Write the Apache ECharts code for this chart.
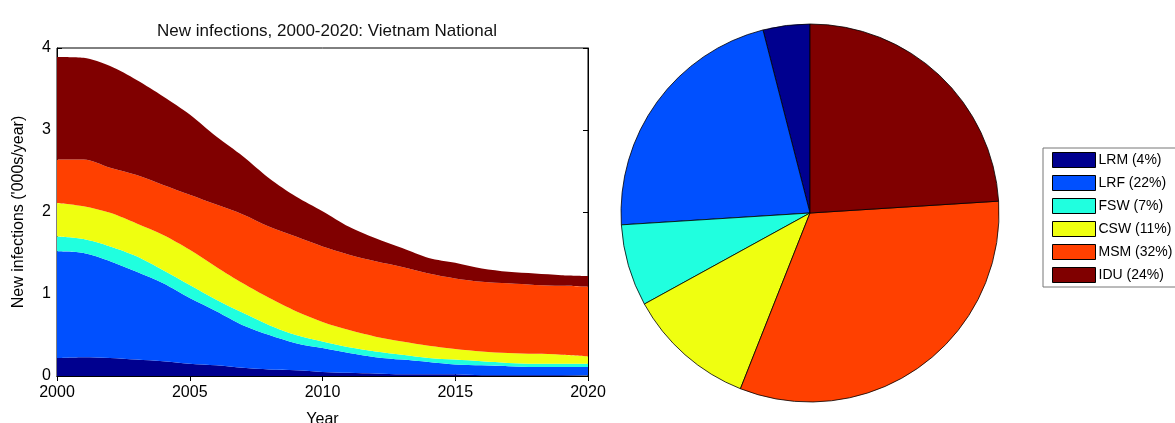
<!DOCTYPE html>
<html>
<head>
<meta charset="utf-8">
<script src="https://cdn.jsdelivr.net/npm/echarts@6/dist/echarts.min.js"></script>
<style>
  html, body { margin: 0; padding: 0; background: #fff; }
  #chart { width: 1175px; height: 423px; }
</style>
</head>
<body>
<div id="chart"></div>
<script>
// years on the x axis
const years = ['2000', '2001', '2002', '2003', '2004', '2005', '2006', '2007', '2008', '2009', '2010',
  '2011', '2012', '2013', '2014', '2015', '2016', '2017', '2018', '2019', '2020'];

// new infections per group, '000s/year (stacked bottom -> top)
const lrm = [0.22, 0.23, 0.22, 0.20, 0.18, 0.15, 0.13, 0.10, 0.08, 0.07, 0.05,
  0.04, 0.03, 0.02, 0.02, 0.02, 0.01, 0.01, 0.01, 0.01, 0.01];
const lrf = [1.30, 1.27, 1.18, 1.07, 0.95, 0.80, 0.66, 0.52, 0.42, 0.33, 0.29,
  0.24, 0.20, 0.18, 0.15, 0.12, 0.12, 0.11, 0.10, 0.10, 0.10];
const fsw = [0.18, 0.17, 0.18, 0.19, 0.16, 0.16, 0.14, 0.15, 0.12, 0.10, 0.08,
  0.07, 0.07, 0.06, 0.05, 0.06, 0.05, 0.04, 0.04, 0.04, 0.04];
const csw = [0.41, 0.40, 0.41, 0.40, 0.43, 0.43, 0.40, 0.36, 0.33, 0.29, 0.24,
  0.21, 0.18, 0.16, 0.15, 0.13, 0.12, 0.12, 0.12, 0.11, 0.09];
const msm = [0.53, 0.57, 0.55, 0.59, 0.61, 0.67, 0.76, 0.84, 0.87, 0.91, 0.92,
  0.92, 0.92, 0.91, 0.88, 0.86, 0.85, 0.85, 0.84, 0.84, 0.85];
const idu = [1.25, 1.24, 1.24, 1.16, 1.08, 0.98, 0.83, 0.71, 0.59, 0.49, 0.43,
  0.34, 0.28, 0.23, 0.19, 0.19, 0.16, 0.14, 0.14, 0.13, 0.13];

// pie: share of infections by group
const groups = ['LRM', 'LRF', 'FSW', 'CSW', 'MSM', 'IDU'];
const shares = [4, 22, 7, 11, 32, 24];
const colors = ['#00008f', '#0050ff', '#20ffdf', '#efff10', '#ff4000', '#800000'];

const yTicks = [0, 1, 2, 3, 4];

const areaData = [lrm, lrf, fsw, csw, msm, idu];

const axisFont = { fontFamily: 'Liberation Sans, Arial', fontSize: 16, color: '#000' };

const chart = echarts.init(document.getElementById('chart'));

const catAxis = (extra) => Object.assign({
  type: 'category',
  data: years,
  boundaryGap: false,
  axisLine: { lineStyle: { color: '#000' } },
  axisTick: { inside: true, length: 5, interval: 4, lineStyle: { color: '#000' } },
  splitLine: { show: false }
}, extra);

const valAxis = (extra) => Object.assign({
  type: 'value', min: yTicks[0], max: yTicks[yTicks.length - 1], interval: 1,
  axisLine: { show: true, lineStyle: { color: '#000' } },
  axisTick: { show: true, inside: true, length: 5, lineStyle: { color: '#000' } },
  splitLine: { show: false }
}, extra);

const option = {
  animation: false,
  title: {
    text: 'New infections, 2000-2020: Vietnam National',
    left: 322,
    textAlign: 'center',
    top: 18,
    textStyle: { fontFamily: 'Liberation Sans, Arial', fontSize: 17, fontWeight: 'normal', color: '#111' }
  },
  grid: {
    left: 57, top: 48, width: 531, height: 328,
    outerBoundsMode: 'none',
    containLabel: false,
    show: true, borderColor: '#000', borderWidth: 1, backgroundColor: 'transparent'
  },
  xAxis: [
    catAxis({
      name: 'Year', nameLocation: 'middle', nameGap: 36,
      nameTextStyle: axisFont,
      axisLabel: Object.assign({ margin: 9, interval: 4 }, axisFont)
    }),
    catAxis({ position: 'top', axisLabel: { show: false } })
  ],
  yAxis: [
    valAxis({
      name: "New infections ('000s/year)", nameLocation: 'middle', nameGap: 30,
      nameTextStyle: axisFont,
      axisLabel: Object.assign({ margin: 6 }, axisFont)
    }),
    valAxis({ position: 'right', axisLabel: { show: false } })
  ],
  legend: {
    orient: 'vertical',
    left: 1043, top: 148,
    data: groups,
    icon: 'rect',
    itemWidth: 43, itemHeight: 15, itemGap: 7,
    padding: [4, 6, 4, 9],
    borderColor: '#777', borderWidth: 1,
    itemStyle: { borderColor: '#000', borderWidth: 1 },
    lineStyle: { width: 0 },
    formatter: name => `${name} (${shares[groups.indexOf(name)]}%)`,
    textStyle: { fontFamily: 'Liberation Sans, Arial', fontSize: 14, color: '#000', padding: [0, 0, 0, -2] }
  },
  series: [
    {
      type: 'pie',
      center: [810, 213],
      radius: 189,
      startAngle: 90,
      clockwise: false,
      label: { show: false },
      labelLine: { show: false },
      emphasis: { disabled: true },
      itemStyle: { borderColor: '#000', borderWidth: 0.8 },
      data: groups.map((g, i) => ({ name: g, value: shares[i], itemStyle: { color: colors[i] } }))
    }
  ].concat(groups.map((g, i) => ({
    name: g,
    type: 'line',
    stack: 'total',
    smooth: 0.3,
    showSymbol: false,
    lineStyle: { width: 0 },
    color: colors[i],
    areaStyle: { color: colors[i], opacity: 1 },
    emphasis: { disabled: true },
    z: 1,
    data: areaData[i]
  })))
};

chart.setOption(option);
</script>
</body>
</html>
